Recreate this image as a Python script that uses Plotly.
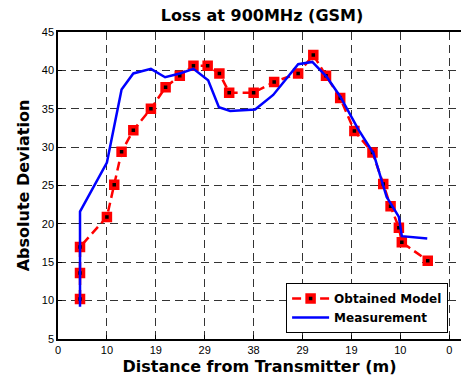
import plotly.graph_objects as go

# Tick positions / labels
tick_vals = [0, 1, 2, 3, 4, 5, 6, 7, 8]
tick_text = ["0", "10", "19", "29", "38", "29", "19", "10", "0"]

# Obtained Model
model_x = [0.45, 0.45, 0.45, 1.0, 1.15, 1.30, 1.54, 1.90, 2.20, 2.49, 2.77, 3.06, 3.30, 3.50,
           4.0, 4.42, 4.91, 5.22, 5.48, 5.77, 6.06, 6.43, 6.65, 6.80, 6.97, 7.03, 7.56]
model_y = [10.2, 13.6, 17.0, 20.9, 25.1, 29.4, 32.2, 35.0, 37.8, 39.3, 40.6, 40.6, 39.6, 37.1,
           37.1, 38.5, 39.6, 42.0, 39.3, 36.4, 32.1, 29.3, 25.2, 22.3, 19.5, 17.6, 15.2]

# Measurement
meas_x = [0.45, 0.45, 1.0, 1.30, 1.54, 1.90, 2.19, 2.49, 2.77, 3.07, 3.29, 3.52, 4.03, 4.40,
          4.91, 5.20, 5.49, 5.77, 6.14, 6.45, 6.72, 6.97, 7.03, 7.55]
meas_y = [9.2, 21.6, 28.0, 37.5, 39.6, 40.2, 39.1, 39.6, 40.2, 38.7, 35.2, 34.7, 34.9, 36.8,
          40.8, 41.1, 39.2, 36.6, 32.3, 29.2, 23.5, 20.9, 18.4, 18.1]

fig = go.Figure()
fig.add_trace(go.Scatter(
    x=model_x, y=model_y, mode="lines+markers", name="Obtained Model",
    line=dict(color="#FF0000", width=2.5, dash="9px,5px"),
    marker=dict(symbol="square", size=7, color="#000000",
                line=dict(color="#FF0000", width=3.5)),
))
fig.add_trace(go.Scatter(
    x=meas_x, y=meas_y, mode="lines", name="Measurement",
    line=dict(color="#0000FF", width=2.5),
))

fig.update_layout(
    width=461, height=380,
    margin=dict(l=58, r=0, t=32, b=41),
    paper_bgcolor="white", plot_bgcolor="white",
    font=dict(family="DejaVu Sans", color="black"),
    title=dict(text="<b>Loss at 900MHz (GSM)</b>", x=262 / 461, xref="container",
               xanchor="center", y=1 - 15.5 / 380, yanchor="middle",
               font=dict(family="DejaVu Sans", size=16, color="black")),
    showlegend=True,
    legend=dict(x=0.968, y=0.0195, xanchor="right", yanchor="bottom",
                bgcolor="white", bordercolor="black", borderwidth=1,
                font=dict(family="DejaVu Sans", size=12, color="black", weight="bold"),
                tracegroupgap=0, itemwidth=37),
)
fig.update_xaxes(
    range=[0, 8.24], tickmode="array", tickvals=tick_vals, ticktext=tick_text,
    showline=True, linecolor="black", linewidth=1.5, mirror=True,
    ticks="inside", ticklen=4, tickcolor="black",
    showgrid=True, gridcolor="#333333", gridwidth=1, griddash="8px,5px",
    zeroline=False, tickfont=dict(family="Liberation Sans", size=11, color="black"),
    title=dict(text="<b>Distance from Transmitter (m)</b>", standoff=6,
               font=dict(family="DejaVu Sans", size=16, color="black")),
)
fig.update_yaxes(
    range=[5, 45], tickmode="array", tickvals=[5, 10, 15, 20, 25, 30, 35, 40, 45],
    showline=True, linecolor="black", linewidth=1.5, mirror=False,
    ticks="inside", ticklen=4, tickcolor="black",
    showgrid=True, gridcolor="#333333", gridwidth=1, griddash="8px,5px",
    zeroline=False, tickfont=dict(family="Liberation Sans", size=11, color="black"),
    title=dict(text="<b>Absolute Deviation</b>", standoff=8,
               font=dict(family="DejaVu Sans", size=16, color="black")),
)

fig.write_html("out.html")
